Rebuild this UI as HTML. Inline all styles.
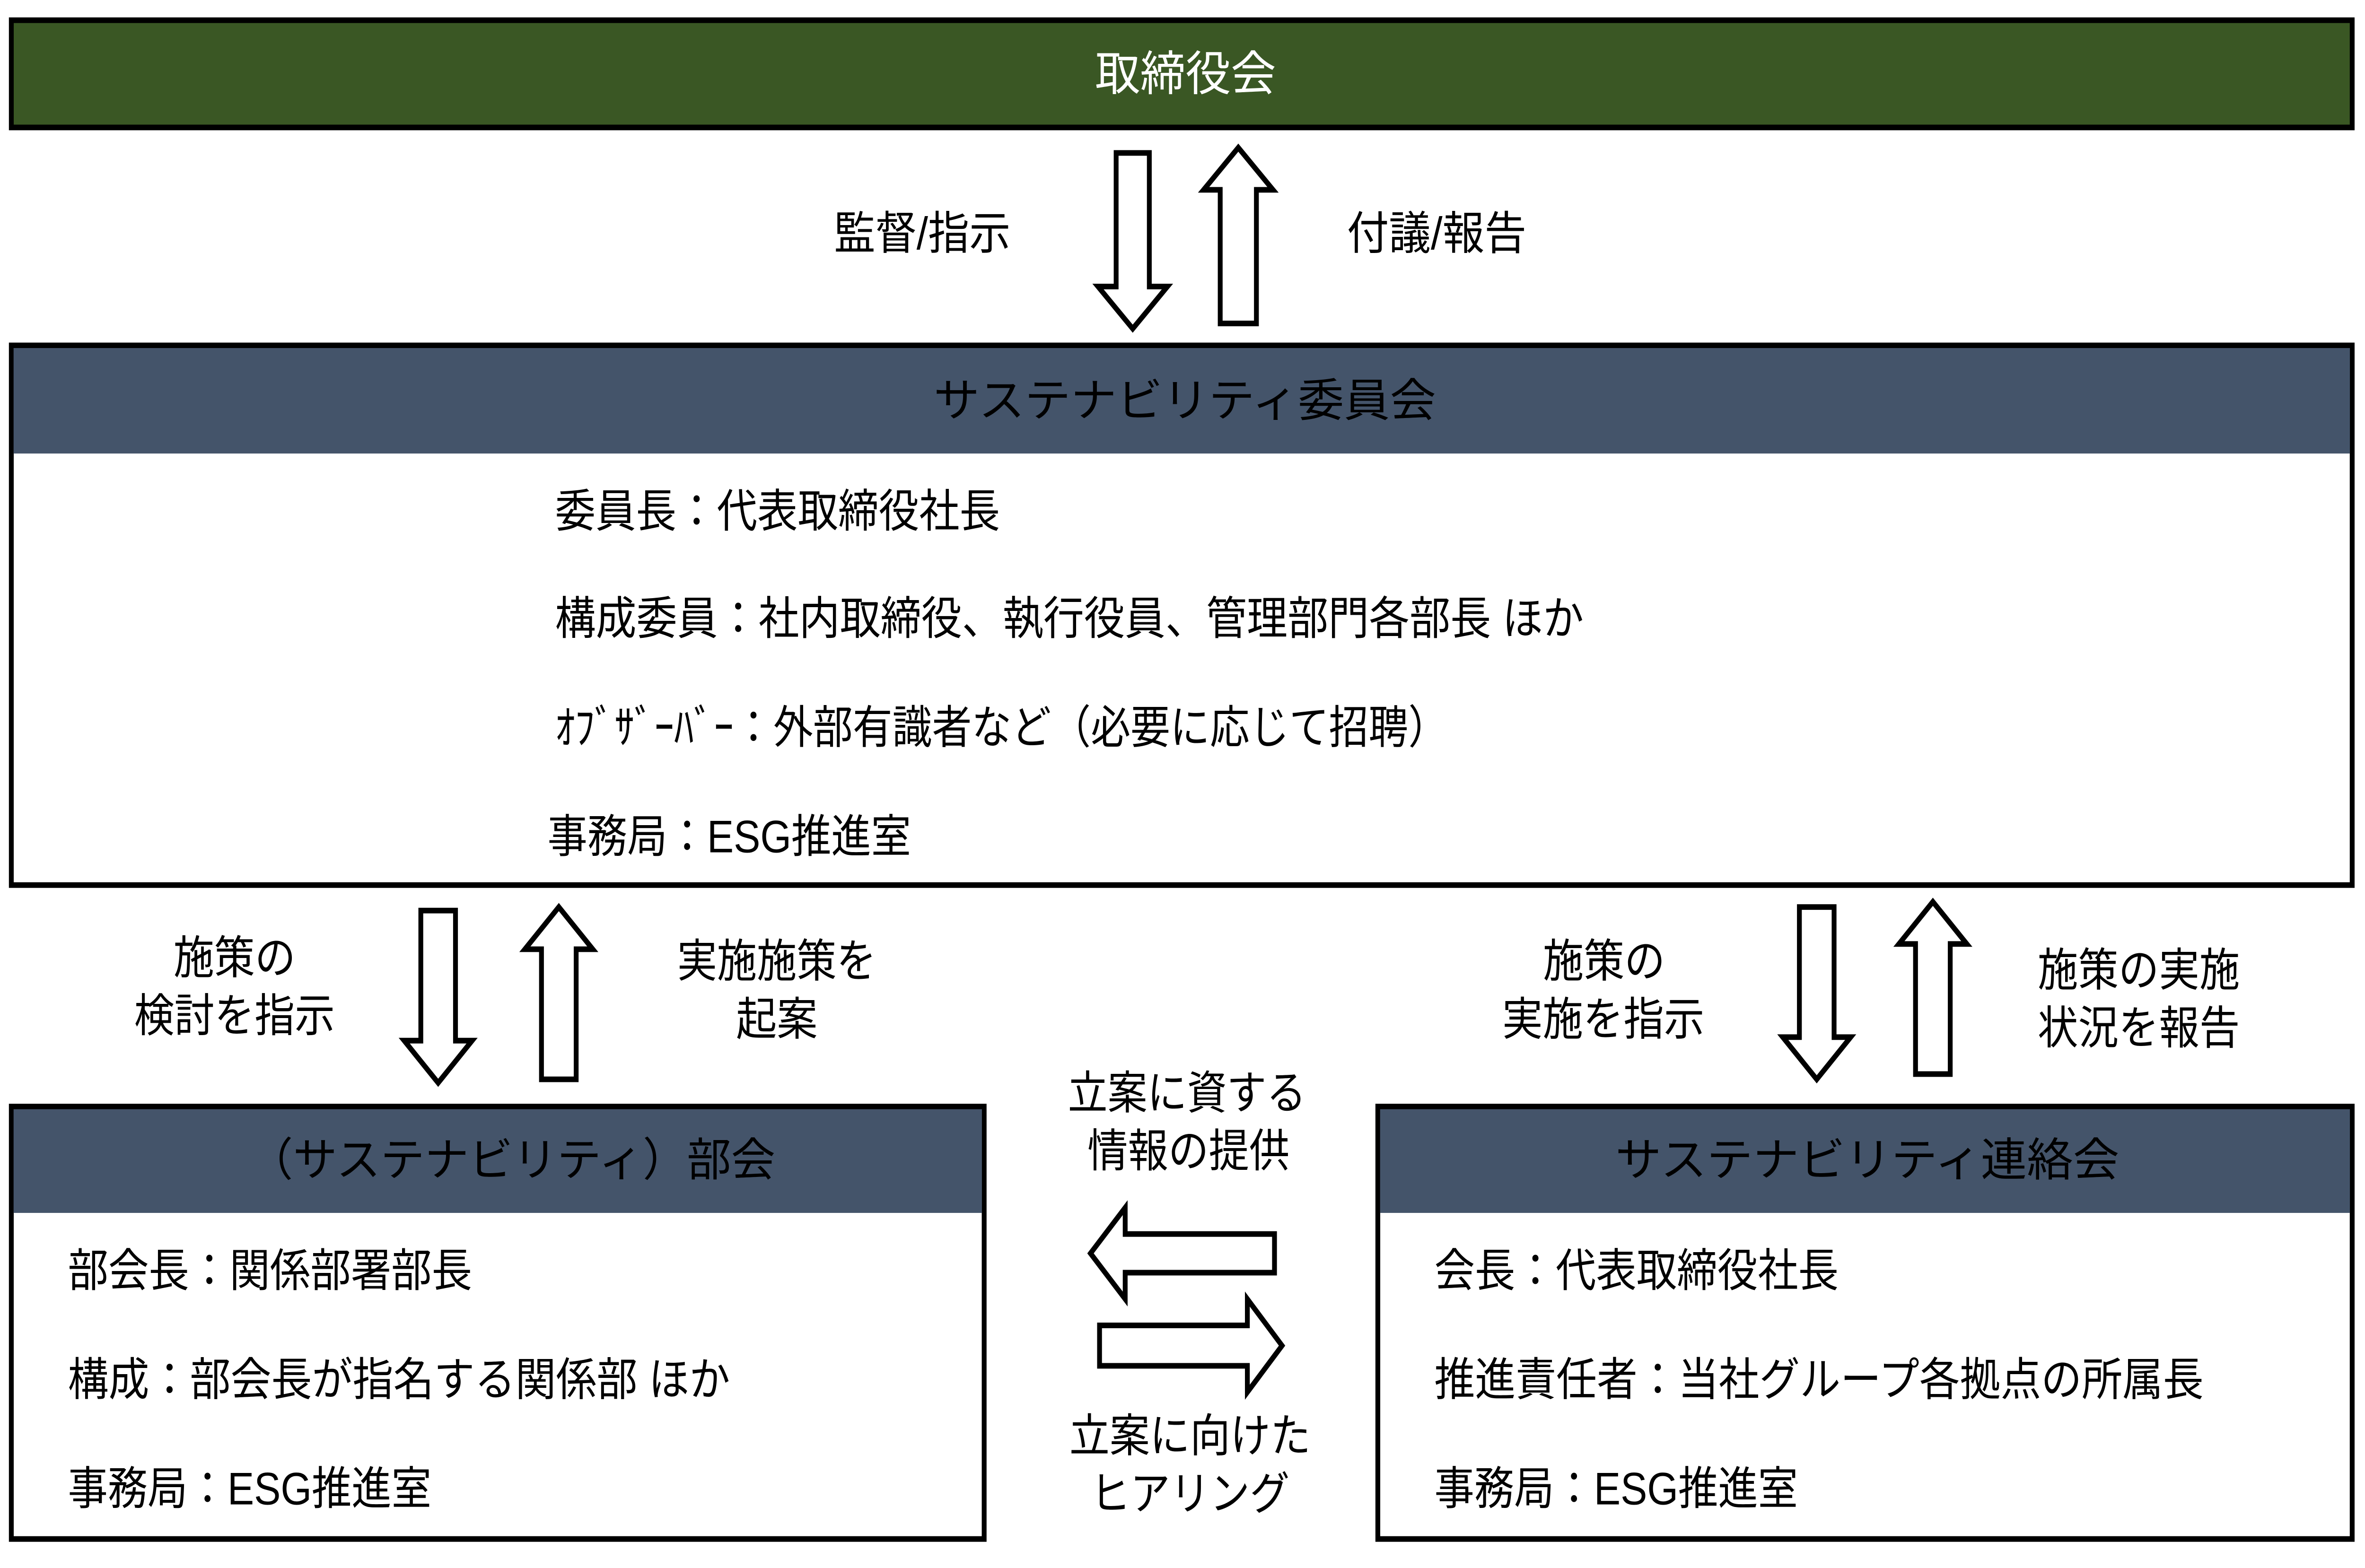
<!DOCTYPE html>
<html><head><meta charset="utf-8"><style>
html,body{margin:0;padding:0;background:#fff;overflow:hidden;width:100%;height:100%;}
svg{display:block;position:absolute;left:0;top:0;width:100vw;height:100vh;}
text{font-family:"Liberation Sans","Noto Sans CJK JP",sans-serif;font-size:26px;fill:#000;dominant-baseline:central;}
</style></head><body>
<svg viewBox="0 0 1568 892" preserveAspectRatio="none" xmlns="http://www.w3.org/2000/svg">
<rect x="0" y="0" width="1568" height="892" fill="#fff"/>
<rect x="7.5" y="11.5" width="1552" height="61" fill="#3a5724" stroke="#000" stroke-width="3.2"/>
<text x="786" y="42" text-anchor="middle" textLength="120" lengthAdjust="spacingAndGlyphs" style="fill:#fff;font-size:27px">取締役会</text>

<rect x="7.5" y="196.5" width="1552" height="307" fill="#fff" stroke="#000" stroke-width="3.2"/>
<rect x="9" y="198" width="1549" height="60" fill="#44546a"/>
<text x="785.5" y="228" text-anchor="middle" textLength="333" lengthAdjust="spacingAndGlyphs">サステナビリティ委員会</text>
<text x="368" y="291" textLength="295" lengthAdjust="spacingAndGlyphs">委員長：代表取締役社長</text>
<text x="368" y="352" textLength="682" lengthAdjust="spacingAndGlyphs">構成委員：社内取締役、執行役員、管理部門各部長 ほか</text>
<text x="368" y="414" textLength="592" lengthAdjust="spacingAndGlyphs">ｵﾌﾞｻﾞｰﾊﾞｰ：外部有識者など（必要に応じて招聘）</text>
<text x="363" y="476" textLength="241" lengthAdjust="spacingAndGlyphs">事務局：ESG推進室</text>

<rect x="7.5" y="629.5" width="645" height="246" fill="#fff" stroke="#000" stroke-width="3.2"/>
<rect x="9" y="631" width="642" height="59" fill="#44546a"/>
<text x="339.5" y="660" text-anchor="middle" textLength="349" lengthAdjust="spacingAndGlyphs">（サステナビリティ）部会</text>
<text x="45" y="723" textLength="268" lengthAdjust="spacingAndGlyphs">部会長：関係部署部長</text>
<text x="45" y="785" textLength="439" lengthAdjust="spacingAndGlyphs">構成：部会長が指名する関係部 ほか</text>
<text x="45" y="847" textLength="241" lengthAdjust="spacingAndGlyphs">事務局：ESG推進室</text>

<rect x="913.5" y="629.5" width="646" height="246" fill="#fff" stroke="#000" stroke-width="3.2"/>
<rect x="915" y="631" width="643" height="59" fill="#44546a"/>
<text x="1238" y="660" text-anchor="middle" textLength="334" lengthAdjust="spacingAndGlyphs">サステナビリティ連絡会</text>
<text x="951" y="723" textLength="268" lengthAdjust="spacingAndGlyphs">会長：代表取締役社長</text>
<text x="951" y="785" textLength="510" lengthAdjust="spacingAndGlyphs">推進責任者：当社グループ各拠点の所属長</text>
<text x="951" y="847" textLength="241" lengthAdjust="spacingAndGlyphs">事務局：ESG推進室</text>

<g fill="#fff" stroke="#000" stroke-width="3.2" stroke-linejoin="miter">
<polygon points="740,87 762,87 762,163 774,163 751,187 728,163 740,163"/>
<polygon points="821,84 844,108 833,108 833,184 809,184 809,108 798,108"/>
<polygon points="279,518 302,518 302,592 313,592 290.5,616 268,592 279,592"/>
<polygon points="370.5,516 393,540 382,540 382,614 359,614 359,540 348,540"/>
<polygon points="1193,516 1216,516 1216,590 1227,590 1204.5,614 1182,590 1193,590"/>
<polygon points="1281.5,513 1304,537 1293,537 1293,611 1270,611 1270,537 1259,537"/>
<polygon points="723,713 746,687 746,702 845,702 845,724 746,724 746,739"/>
<polygon points="850,765.5 827,739 827,754 729,754 729,777 827,777 827,792"/>
</g>

<text x="611.5" y="133" text-anchor="middle" textLength="117" lengthAdjust="spacingAndGlyphs">監督/指示</text>
<text x="952.5" y="133" text-anchor="middle" textLength="119" lengthAdjust="spacingAndGlyphs">付議/報告</text>
<text x="155.5" y="545" text-anchor="middle" textLength="81" lengthAdjust="spacingAndGlyphs">施策の</text>
<text x="155.5" y="578" text-anchor="middle" textLength="133" lengthAdjust="spacingAndGlyphs">検討を指示</text>
<text x="515" y="547" text-anchor="middle" textLength="132" lengthAdjust="spacingAndGlyphs">実施施策を</text>
<text x="515" y="580" text-anchor="middle" textLength="54" lengthAdjust="spacingAndGlyphs">起案</text>
<text x="1063.5" y="547" text-anchor="middle" textLength="81" lengthAdjust="spacingAndGlyphs">施策の</text>
<text x="1063" y="580" text-anchor="middle" textLength="134" lengthAdjust="spacingAndGlyphs">実施を指示</text>
<text x="1418" y="552" text-anchor="middle" textLength="134" lengthAdjust="spacingAndGlyphs">施策の実施</text>
<text x="1418" y="585" text-anchor="middle" textLength="134" lengthAdjust="spacingAndGlyphs">状況を報告</text>
<text x="787" y="622" text-anchor="middle" textLength="158" lengthAdjust="spacingAndGlyphs">立案に資する</text>
<text x="788" y="655" text-anchor="middle" textLength="134" lengthAdjust="spacingAndGlyphs">情報の提供</text>
<text x="789" y="817" text-anchor="middle" textLength="160" lengthAdjust="spacingAndGlyphs">立案に向けた</text>
<text x="789" y="850" text-anchor="middle" textLength="132" lengthAdjust="spacingAndGlyphs">ヒアリング</text>
</svg>
</body></html>
